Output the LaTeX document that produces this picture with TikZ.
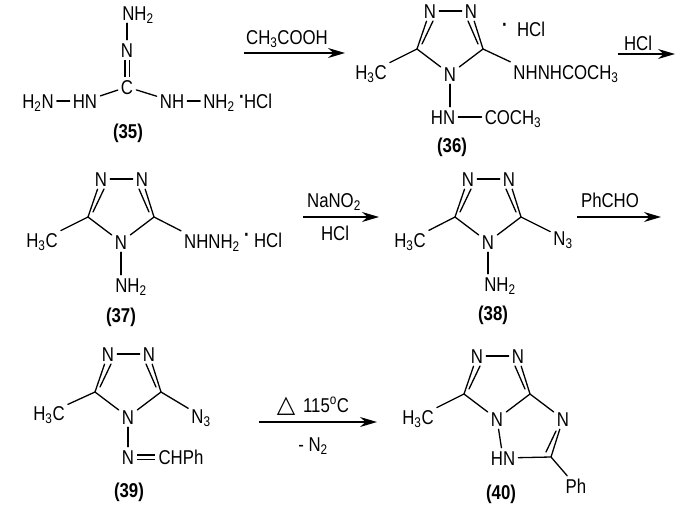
\documentclass[tikz,border=0pt]{standalone}
\usepackage{fontspec}
\setmainfont[FakeStretch=0.84]{Liberation Sans}
\newfontfamily\symbfont{DejaVu Sans}
\usetikzlibrary{arrows.meta}
\newcommand{\sbs}[1]{\textsubscript{#1}}
\tikzset{
    atom/.style={inner sep=3pt,text height=14pt,text depth=0pt,font=\fontsize{20}{22}\selectfont},
    cmpd/.style={inner sep=1pt,text height=14pt,text depth=0pt,font=\fontsize{20}{22}\selectfont\bfseries},
    bond/.style={line width=1.3pt,line cap=round},
    rxn/.style={line width=1.3pt,-{Stealth[length=17pt,width=10pt]}},
    pics/triazole/.style={code={
        \node[atom] (-n1) at (-20,-63) {N};
        \node[atom] (-n2) at (21,-63) {N};
        \node[atom] (-n4) at (0,0) {N};
        \coordinate (-c5) at (-33,-25);
        \coordinate (-c3) at (33,-25);
        \coordinate (-i5a) at (-28,-30);
        \coordinate (-i5b) at (-17,-53);
        \coordinate (-i3a) at (28,-30);
        \coordinate (-i3b) at (18,-53);
        \draw[bond] (-n1) -- (-n2);
        \draw[bond] (-n1) -- (-c5) -- (-n4) -- (-c3) -- (-n2);
        \draw[bond] (-i5a) -- (-i5b);
        \draw[bond] (-i3a) -- (-i3b);
    }}
}

\begin{document}
\begin{tikzpicture}[x=1pt,y=-1pt]
    \useasboundingbox (0,0) rectangle (700,506);

    % compound 35
    \node[atom] (top35) at (138,13) {NH\sbs{2}};
    \node[atom] (n35) at (127,50) {N};
    \node[atom] (c35) at (127,87) {C};
    \node[atom] (hn35) at (85,101) {HN};
    \node[atom] (h2n35) at (38,101) {H\sbs{2}N};
    \node[atom] (nh35) at (172,101) {NH};
    \node[atom] (nhh35) at (219,101) {NH\sbs{2}};
    \node[atom] (dot35) at (242,96) {\textbf{·}};
    \node[atom] (hcl35) at (258,101) {HCl};
    \node[cmpd] (l35) at (128,131) {(35)};
    \draw[bond] (n35) -- (n35 |- top35.south);
    \draw[bond,double,double distance=3pt,line cap=butt] (n35) -- (c35);
    \draw[bond] (hn35) -- (c35);
    \draw[bond] (c35) -- (nh35);
    \draw[bond] (h2n35) -- (hn35);
    \draw[bond] (nh35) -- (nh35 -| nhh35.west);

    % first arrow
    \coordinate (a1s) at (244,53);
    \coordinate (a1e) at (345,53);
    \draw[rxn] (a1s) -- (a1e);
    \node[atom] (r1) at (287,37) {CH\sbs{3}COOH};

    % compound 36
    \pic (t36) at (450,74) {triazole};
    \node[atom] (me36) at (371,72) {H\sbs{3}C};
    \node[atom] (side36) at (566,72) {NHNHCOCH\sbs{3}};
    \node[atom] (hn36) at (443,117) {HN};
    \node[atom] (ac36) at (513,117) {COCH\sbs{3}};
    \node[atom] (dot36) at (505,24) {\textbf{·}};
    \node[atom] (hcl36) at (531,29) {HCl};
    \node[cmpd] (l36) at (452,145) {(36)};
    \draw[bond] (t36-c5) -- (me36);
    \draw[bond] (t36-c3) -- (side36.north west);
    \draw[bond] (t36-n4) -- (t36-n4 |- hn36.north);
    \draw[bond] (hn36) -- (ac36);

    % second arrow
    \coordinate (a2s) at (618,54);
    \coordinate (a2e) at (675,54);
    \draw[rxn] (a2s) -- (a2e);
    \node[atom] (r2) at (638,43) {HCl};

    % compound 37
    \pic (t37) at (121,242) {triazole};
    \node[atom] (me37) at (42,240) {H\sbs{3}C};
    \node[atom] (side37) at (212,241) {NHNH\sbs{2}};
    \node[atom] (nh37) at (131,285) {NH\sbs{2}};
    \node[atom] (dot37) at (247,234) {\textbf{·}};
    \node[atom] (hcl37) at (268,240) {HCl};
    \node[cmpd] (l37) at (121,315) {(37)};
    \draw[bond] (t37-c5) -- (me37);
    \draw[bond] (t37-c3) -- (side37.north west);
    \draw[bond] (t37-n4) -- (t37-n4 |- nh37.north);

    % third arrow
    \coordinate (a3s) at (303,217);
    \coordinate (a3e) at (379,217);
    \draw[rxn] (a3s) -- (a3e);
    \node[atom] (r3a) at (334,200) {NaNO\sbs{2}};
    \node[atom] (r3b) at (335,233) {HCl};

    % compound 38
    \pic (t38) at (488,242) {triazole};
    \node[atom] (me38) at (410,240) {H\sbs{3}C};
    \node[atom] (az38) at (563,238) {N\sbs{3}};
    \node[atom] (nh38) at (500,284) {NH\sbs{2}};
    \node[cmpd] (l38) at (493,313) {(38)};
    \draw[bond] (t38-c5) -- (me38);
    \draw[bond] (t38-c3) -- (az38);
    \draw[bond] (t38-n4) -- (t38-n4 |- nh38.north);

    % fourth arrow
    \coordinate (a4s) at (577,217);
    \coordinate (a4e) at (661,217);
    \draw[rxn] (a4s) -- (a4e);
    \node[atom] (r4) at (610,200) {PhCHO};

    % compound 39
    \pic (t39) at (128,417) {triazole};
    \node[atom] (me39) at (49,413) {H\sbs{3}C};
    \node[atom] (az39) at (201,416) {N\sbs{3}};
    \node[atom] (n39) at (128,457) {N};
    \node[atom] (ch39) at (181,457) {CHPh};
    \node[cmpd] (l39) at (129,490) {(39)};
    \draw[bond] (t39-c5) -- (me39);
    \draw[bond] (t39-c3) -- (az39);
    \draw[bond] (t39-n4) -- (n39);
    \draw[bond,double,double distance=3pt,line cap=butt] (n39) -- (ch39);

    % fifth arrow
    \coordinate (a5s) at (259,422);
    \coordinate (a5e) at (377,422);
    \draw[rxn] (a5s) -- (a5e);
    \node[atom] (r5a) at (313,405) {{\symbfont\fontsize{24}{24}\selectfont △}\hspace{3pt} 115\textsuperscript{o}C};
    \node[atom] (r5b) at (313,444) {- N\sbs{2}};

    % compound 40
    \pic (t40) at (497,419) {triazole};
    \node[atom] (me40) at (418,417) {H\sbs{3}C};
    \node[atom] (nr40) at (563,419) {N};
    \node[atom] (hn40) at (503,458) {HN};
    \coordinate (c40) at (551,457);
    \coordinate (ia40) at (546,452);
    \coordinate (ib40) at (556,431);
    \node[atom] (ph40) at (576,486) {Ph};
    \node[cmpd] (l40) at (501,492) {(40)};
    \draw[bond] (t40-c5) -- (me40);
    \draw[bond] (t40-c3) -- (nr40);
    \draw[bond] (nr40) -- (c40) -- (hn40);
    \draw[bond] (ia40) -- (ib40);
    \draw[bond] (c40) -- (ph40);
    \draw[bond] (t40-n4) -- (hn40);
\end{tikzpicture}
\end{document}
